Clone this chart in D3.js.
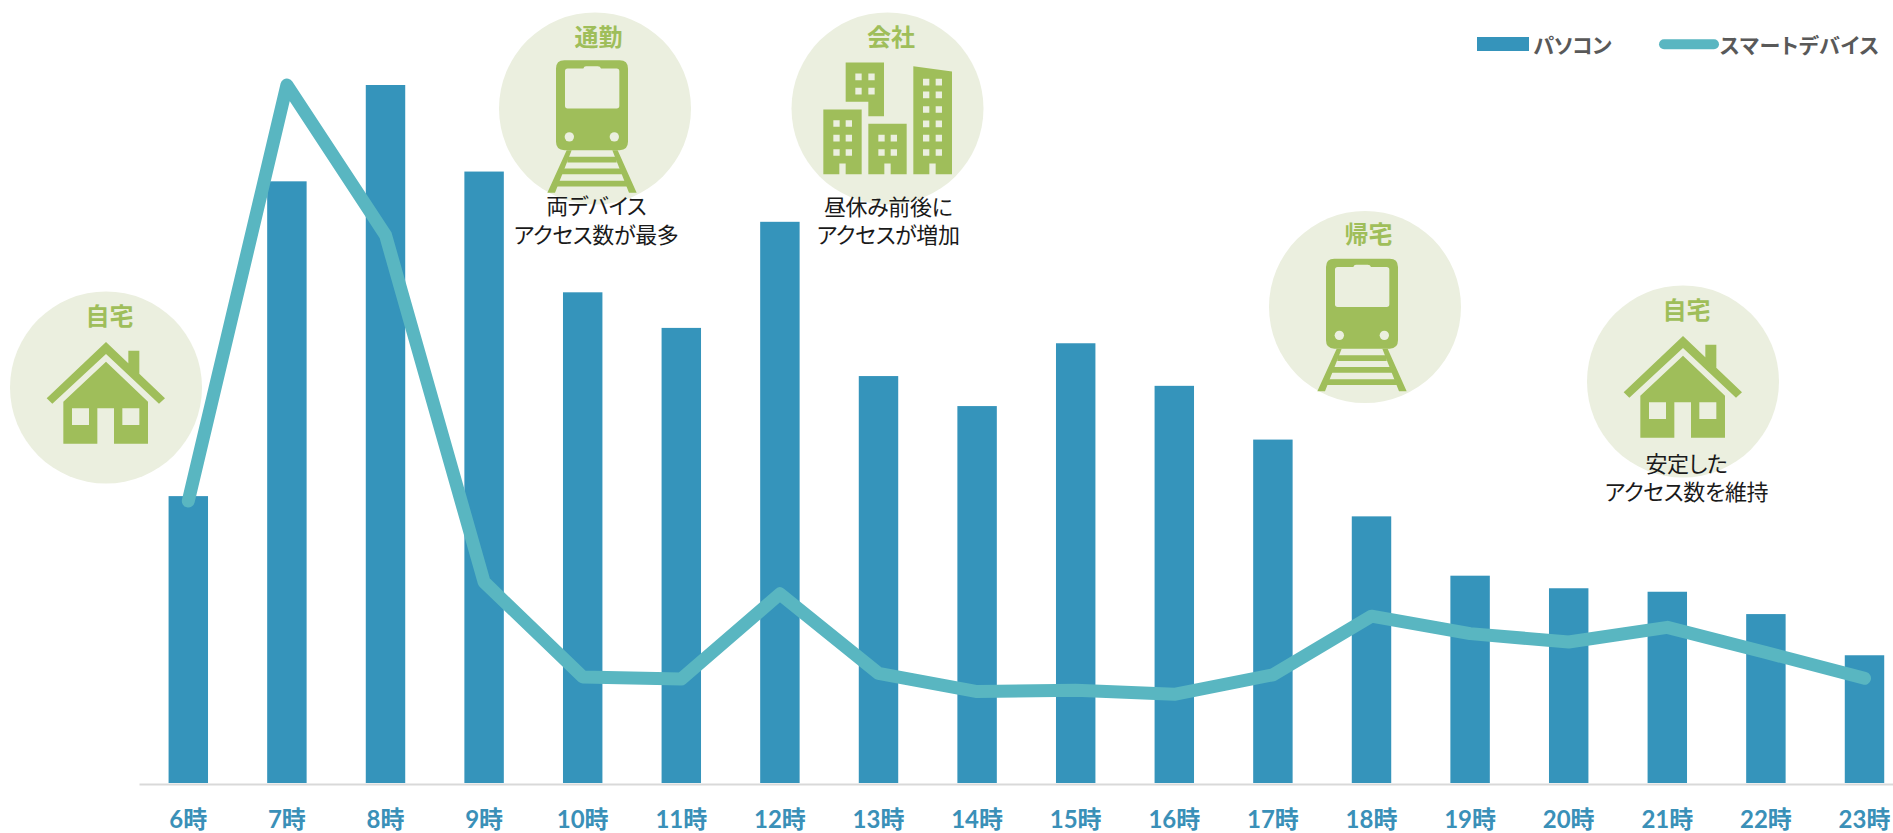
<!DOCTYPE html>
<html lang="ja">
<head>
<meta charset="utf-8">
<title>時間帯別アクセス数</title>
<script src="https://cdnjs.cloudflare.com/ajax/libs/d3/7.9.0/d3.min.js"></script>
<style>
html,body{margin:0;padding:0;background:#fff;overflow:hidden}
svg{display:block}
text{font-family:Lato,"Noto Sans CJK JP",sans-serif}
</style>
</head>
<body>
<svg id="chart" width="1893" height="833"></svg>
<script>
const hours = ["6時","7時","8時","9時","10時","11時","12時","13時","14時","15時","16時","17時","18時","19時","20時","21時","22時","23時"];
const pcValues = [41.1,86.2,100,87.6,70.3,65.2,80.4,58.3,54.0,63.0,56.9,49.2,38.2,29.7,27.9,27.4,24.2,18.3];
const smartValues = [40.4,100,78.5,28.8,15.2,14.9,27.1,15.7,13.1,13.3,12.7,15.5,23.9,21.4,20.2,22.3,18.7,15.0];
const seriesNames = ["パソコン","スマートデバイス"];
const scenes = [
  {title:"自宅", icon:"home",  cx:106,  cy:387.5, note:[], noteX:0, noteY:0},
  {title:"通勤", icon:"train", cx:595,  cy:108.5, note:["両デバイス","アクセス数が最多"], noteX:1.2, noteY:98},
  {title:"会社", icon:"office",cx:887.5,cy:108.5, note:["昼休み前後に","アクセスが増加"], noteX:0.7, noteY:98.5},
  {title:"帰宅", icon:"train", cx:1365, cy:307,   note:[], noteX:0, noteY:0},
  {title:"自宅", icon:"home",  cx:1683, cy:381.5, note:["安定した","アクセス数を維持"], noteX:3.5, noteY:82.5}
];

const BAR="#3594BB", LINE="#59B6C1", DISC="#EBEFDF", ICON="#9FBE5A", AXIS="#D9D9D9", TICK="#3A90B8", LEG="#595959";
const svg = d3.select("#chart");

const x = d3.scaleBand().domain(hours).range([139,1913.8]).paddingInner(0.6).paddingOuter(0.3);
const y = d3.scaleLinear().domain([0,100]).range([783,85]);

// scene discs (behind the chart)
const sceneG = svg.selectAll("g.scene").data(scenes).join("g").attr("class","scene")
  .attr("transform",d=>`translate(${d.cx},${d.cy})`);
sceneG.append("circle").attr("r",96).attr("fill",DISC);

// bars
svg.append("g").selectAll("rect").data(hours).join("rect")
  .attr("x",d=>x(d)).attr("width",x.bandwidth())
  .attr("y",(d,i)=>y(pcValues[i])).attr("height",(d,i)=>y(0)-y(pcValues[i]))
  .attr("fill",BAR);

// axis
const axis = d3.axisBottom(x).tickSize(0).tickPadding(26.5);
const ax = svg.append("g").attr("transform","translate(0,784)").call(axis);
ax.select(".domain").attr("stroke",AXIS).attr("stroke-width",2);
ax.selectAll("text").attr("fill",TICK).attr("font-size",24).attr("font-weight",700)
  .style("font-family",'Lato,"Noto Sans CJK JP",sans-serif');

// icons, drawn in a local 3x unit space centred on the disc
const iconHome = g=>{
  g.append("path").attr("d","M0,-136.5 L177,32.5 L159,48.5 L0,-100.5 L-161,48.5 L-178,32.5 Z M67,-110.5 H100 V-39.5 L67,-72.5 Z");
  g.append("path").attr("fill-rule","evenodd").attr("d","M0,-77.5 L126,42.5 V168.5 H24 V62.5 H-26 V168.5 H-128 V42.5 Z M-102,62.5 V112.5 H-51 V62.5 Z M49,62.5 V112.5 H100 V62.5 Z");
};
const iconTrain = g=>{
  g.append("path").attr("fill-rule","evenodd").attr("d",
   "M-92,-145 H74 Q99,-145 99,-120 V100 Q99,125 74,125 H-92 Q-117,125 -117,100 V-120 Q-117,-145 -92,-145 Z "+
   "M-82,-120 Q-90,-120 -90,-112 V-8 Q-90,0 -82,0 H65 Q73,0 73,-8 V-112 Q73,-120 65,-120 H18 Q16,-127 8,-127 H-27 Q-33,-127 -35,-120 Z");
  g.selectAll("circle.l").data([-77,58]).join("circle").attr("class","l").attr("cx",d=>d).attr("cy",85).attr("r",14).attr("fill",DISC);
  g.append("path").attr("d","M-85,125 L-143,253 H-120 L-70,125 Z M68,125 L125,253 H102 L52,125 Z");
  g.append("path").attr("d","M-83,145 H65 V162 H-83 Z M-100,180 H83 V197 H-100 Z M-117,217 H100 V234 H-117 Z");
};
const iconOffice = g=>{
  const ox=-322.5, oy=-325;
  const p=(s)=>g.append("path").attr("transform",`translate(${ox},${oy})`).attr("fill-rule","evenodd").attr("d",s);
  const win=(cols,rows)=>cols.flatMap(c=>rows.map(r=>`M${c},${r} h19 v20 h-19 Z`)).join(" ");
  p("M197,187 H312 V348 H265 V305 H197 Z "+win([226,265],[220,263]));
  p("M130,328 H245 V522 H197 V490 H178 V522 H130 Z "+win([160,197],[360,404,447]));
  p("M265,371 H380 V522 H332 V490 H313 V522 H265 Z "+win([295,332],[404,447]));
  p("M400,198 L516,214 V522 H467 V490 H448 V522 H400 Z "+win([429,467],[236,274,318,361,404,447]));
};
const painters={home:iconHome,train:iconTrain,office:iconOffice};
sceneG.each(function(d){
  const g=d3.select(this).append("g").attr("fill",ICON).attr("transform","scale(0.3333)");
  painters[d.icon](g);
});
sceneG.append("text").text(d=>d.title).attr("x",3.5).attr("y",d=>d.title==="帰宅"?-72.5:-71.5).attr("dy","0.36em")
  .attr("text-anchor","middle").attr("font-size",24).attr("font-weight",700).attr("fill",ICON)
  .style("font-family",'"Noto Sans CJK JP",sans-serif');

// line
const lineGen = d3.line().x((d,i)=>x(hours[i])+x.bandwidth()/2).y(d=>y(d));
svg.append("path").datum(smartValues).attr("d",lineGen).attr("fill","none")
  .attr("stroke",LINE).attr("stroke-width",13).attr("stroke-linecap","round").attr("stroke-linejoin","round");

// notes
scenes.forEach(s=>{
  s.note.forEach((t,i)=>{
    svg.append("text").text(t).attr("x",s.cx+s.noteX).attr("y",s.cy+s.noteY+i*28.5).attr("dy","0.36em")
      .attr("text-anchor","middle").attr("font-size",22).attr("fill","#1a1a1a")
      .attr("letter-spacing",-0.35)
      .style("font-family",'"Noto Sans CJK JP",sans-serif')
      .style("font-feature-settings",'"palt" 1');
  });
});

// legend
const leg = svg.append("g");
leg.append("rect").attr("x",1477).attr("y",37).attr("width",52).attr("height",14).attr("fill",BAR);
leg.append("line").attr("x1",1664).attr("x2",1714).attr("y1",44.3).attr("y2",44.3)
  .attr("stroke",LINE).attr("stroke-width",10).attr("stroke-linecap","round");
leg.selectAll("text").data(seriesNames).join("text").text(d=>d)
  .attr("x",(d,i)=>[1533.5,1720][i]).attr("y",45).attr("dy","0.36em")
  .attr("letter-spacing",(d,i)=>[-0.5,0.6][i])
  .attr("font-size",21).attr("font-weight",700).attr("fill",LEG)
  .style("font-family",'"Noto Sans CJK JP",sans-serif')
  .style("font-feature-settings",'"palt" 1');
</script>
</body>
</html>
